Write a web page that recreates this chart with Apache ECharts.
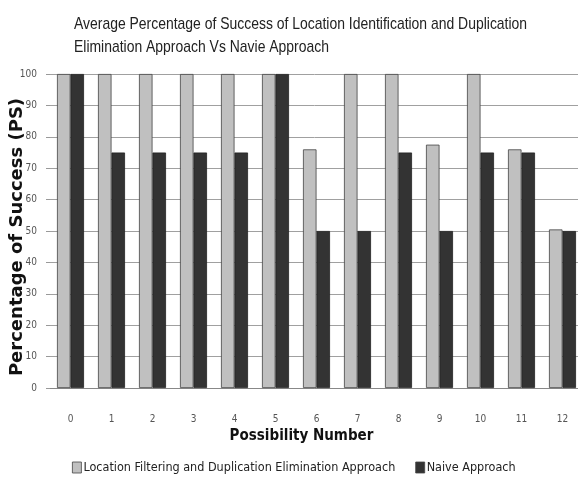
<!DOCTYPE html>
<html><head><meta charset="utf-8">
<script src="https://cdn.jsdelivr.net/npm/echarts@6/dist/echarts.min.js"></script>
<style>html,body{margin:0;padding:0;background:#fff}#c{width:578px;height:478px}</style>
</head><body><div id="c"></div>
<script>
const categories = ['0','1','2','3','4','5','6','7','8','9','10','11','12'];
const locationFiltering = [100,100,100,100,100,100,76,100,100,77.5,100,76,50.5];
const naive = [100,75,75,75,75,100,50,50,75,50,75,75,50];
const yTicks = [0,10,20,30,40,50,60,70,80,90,100];
const titleLines = ['Average Percentage of Success of Location Identification and Duplication','Elimination Approach Vs Navie Approach'];
const narrow = '"DejaVu Sans Condensed",sans-serif';
const chart = echarts.init(document.getElementById('c'), null, {renderer:'canvas'});
chart.setOption({
  animation:false,
  backgroundColor:'#fff',
  graphic:[
    {type:'text', x:74, y:16, scaleX:0.82,
     style:{text:titleLines[0], font:'17px "Liberation Sans", Arial, sans-serif', fill:'#222'}},
    {type:'text', x:74, y:39, scaleX:0.82,
     style:{text:titleLines[1], font:'17px "Liberation Sans", Arial, sans-serif', fill:'#222'}}
  ],
  legend:{top:461, left:72, padding:0, itemWidth:9, itemHeight:11, itemGap:20,
    textStyle:{fontFamily:narrow, fontSize:12.5, color:'#222', padding:[0,0,0,-3]},
    itemStyle:{borderColor:'#444', borderWidth:0.8},
    data:[{name:'Location Filtering and Duplication Elimination Approach', icon:'rect'},{name:'Naive Approach', icon:'rect'}]},
  grid:{left:50, top:74, width:533, height:314, containLabel:false, outerBoundsMode:'none'},
  xAxis:{type:'category', data:categories, name:'Possibility Number', nameLocation:'middle', nameGap:40,
    nameTextStyle:{fontFamily:narrow, fontWeight:'bold', fontSize:15, color:'#111', padding:[0,30,0,0]},
    axisLine:{lineStyle:{color:'#888'}}, axisTick:{show:false},
    axisLabel:{fontFamily:narrow, fontSize:10, color:'#555', margin:26}},
  yAxis:{type:'value', min:0, max:100, interval:10, name:'Percentage of Success (PS)', nameLocation:'middle', nameGap:24,
    nameMoveOverlap:false,
    nameTextStyle:{fontFamily:'"DejaVu Sans", sans-serif', fontWeight:'bold', fontSize:18, color:'#111', padding:[0,12,0,0]},
    axisLine:{show:false}, axisTick:{show:true, length:4, lineStyle:{color:'#999'}},
    splitLine:{lineStyle:{color:'#a0a0a0'}},
    axisLabel:{fontFamily:narrow, fontSize:10, color:'#555', margin:13,
      formatter:v=>yTicks.includes(v)?String(v):''}},
  series:[
    {name:'Location Filtering and Duplication Elimination Approach', type:'bar', data:locationFiltering,
     barWidth:13.5, barGap:'0%', itemStyle:{color:'#c0c0c0', borderColor:'#444', borderWidth:0.8}},
    {name:'Naive Approach', type:'bar', data:naive,
     barWidth:13.5, itemStyle:{color:'#333333', borderColor:'#222', borderWidth:0.8}}
  ]
});
</script></body></html>
